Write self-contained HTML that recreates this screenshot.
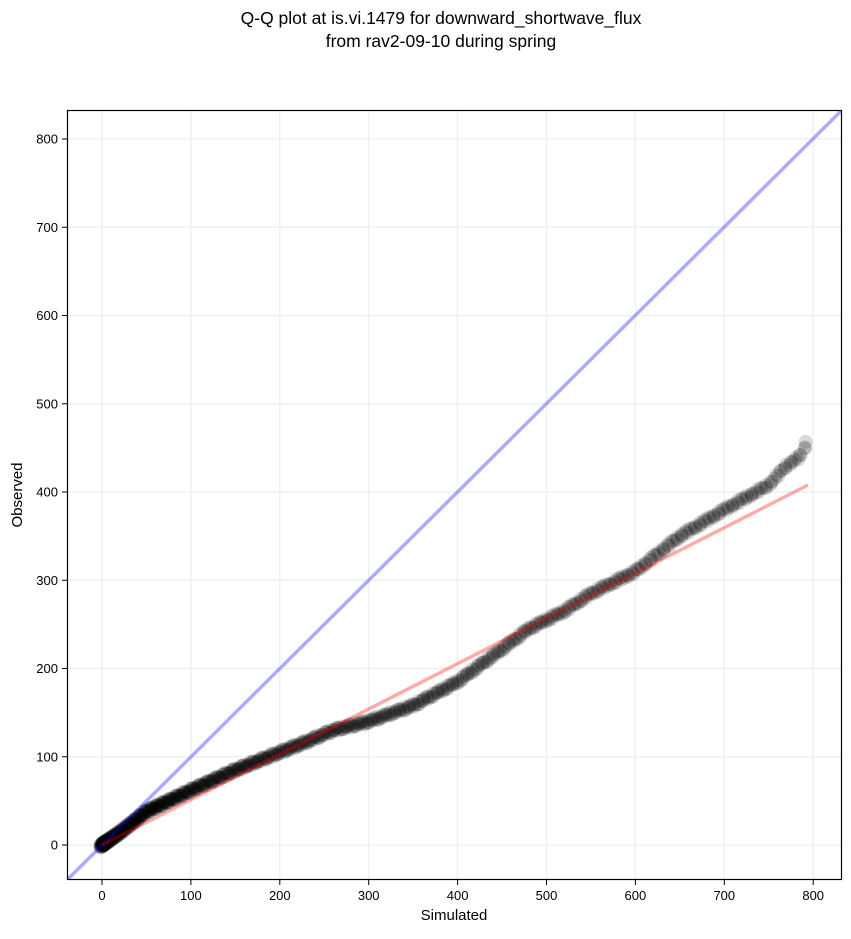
<!DOCTYPE html>
<html><head><meta charset="utf-8"><style>
body{margin:0;background:#fff;}
svg text{font-family:"Liberation Sans","DejaVu Sans",sans-serif;}
</style></head><body>
<svg id="s" width="851" height="934" xmlns="http://www.w3.org/2000/svg">
<rect width="851" height="934" fill="#fff"/>
<text x="441" y="24" font-size="17.5" text-anchor="middle">Q-Q plot at is.vi.1479 for downward_shortwave_flux</text>
<text x="441" y="47" font-size="17.5" text-anchor="middle">from rav2-09-10 during spring</text>
<defs><clipPath id="c"><rect x="67" y="110" width="775" height="770"/></clipPath></defs>
<g id="grid" stroke="#f0f0f0" stroke-width="1.5"></g>
<g id="pts" clip-path="url(#c)"></g>
<g clip-path="url(#c)">
<line x1="67" y1="880" x2="842" y2="110" stroke="#0000ff" stroke-opacity="0.33" stroke-width="3.5"/>
<line x1="102" y1="845" x2="808" y2="485" stroke="#ff0000" stroke-opacity="0.33" stroke-width="3.5"/>
</g>
<rect x="67.5" y="110.5" width="774" height="769" fill="none" stroke="#000" stroke-width="1.2"/>
<g id="ticks" font-size="13"></g>
<text x="454" y="920" font-size="15" text-anchor="middle">Simulated</text>
<text x="22" y="495" font-size="15" text-anchor="middle" transform="rotate(-90 22 495)">Observed</text>
</svg>
<script>
var ns="http://www.w3.org/2000/svg";
function X(v){return 102+v*0.889;}function Y(v){return 845-v*0.8825;}
function el(p,t,a,txt){var e=document.createElementNS(ns,t);for(var k in a)e.setAttribute(k,a[k]);if(txt!==undefined)e.textContent=txt;document.getElementById(p).appendChild(e);}
for(var v=0;v<=800;v+=100){
el('grid','line',{x1:X(v),y1:110,x2:X(v),y2:880});
el('grid','line',{x1:67,y1:Y(v),x2:842,y2:Y(v)});
el('ticks','line',{x1:X(v),y1:880,x2:X(v),y2:885,stroke:'#000'});
el('ticks','line',{x1:62,y1:Y(v),x2:67,y2:Y(v),stroke:'#000'});
el('ticks','text',{x:X(v),y:900,'text-anchor':'middle'},v);
el('ticks','text',{x:58,y:Y(v)+4.5,'text-anchor':'end'},v);
}
var P=[[0,0],[20,14],[50,38],[100,62],[150,85],[200,105],[230,117],[260,130],[300,140],[350,158],[400,185],[450,222],[480,245],[520,265],[550,285],[600,310],[650,350],[700,380],[750,408],[770,430],[785,440],[790,448],[793,462]];
function f(x){for(var i=1;i<P.length;i++){if(x<=P[i][0]){var a=P[i-1],b=P[i];return a[1]+(b[1]-a[1])*(x-a[0])/(b[0]-a[0]);}}return 462;}
var n=700;
for(var i=0;i<n;i++){var t=i/(n-1);var x=793*Math.pow(t,1.8)+Math.sin(i*2.3)*2;var y=f(x)+Math.sin(i*1.7)*2;
el('pts','circle',{cx:X(x),cy:Y(y),r:7,fill:'#000','fill-opacity':0.15});}
</script>
</body></html>
